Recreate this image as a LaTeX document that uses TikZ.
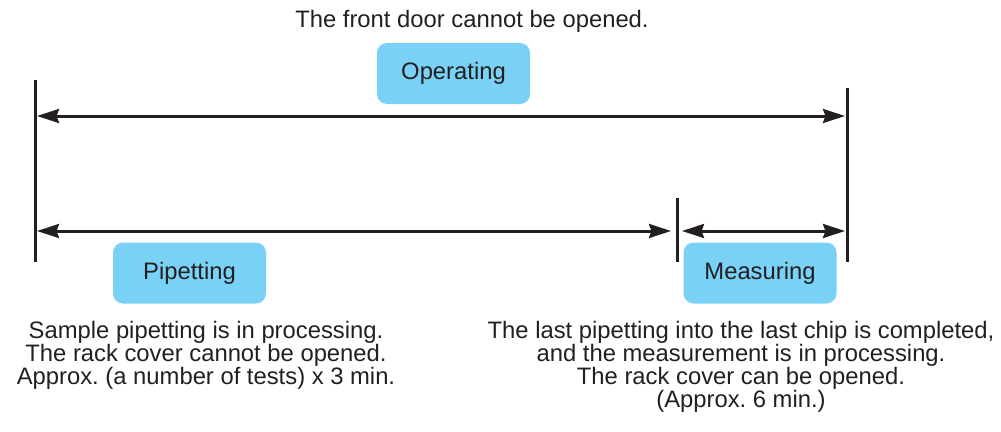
\documentclass[tikz,border=0pt]{standalone}
\usepackage{fontspec}
\setmainfont{Liberation Sans}
\usetikzlibrary{arrows.meta}
\definecolor{boxblue}{HTML}{79D2F6}
\definecolor{ink}{HTML}{231F20}
\frenchspacing
\begin{document}
\begin{tikzpicture}[x=1pt,y=-1pt,
  lbl/.style={fill=boxblue,rounded corners=10pt,minimum width=153pt,minimum height=61pt,inner sep=0pt,font=\fontsize{23.8}{23}\selectfont,text=ink},
  txt/.style={align=center,font=\fontsize{23.8}{23}\selectfont,text=ink,inner sep=0pt},
  bar/.style={draw=ink,line width=3pt},
  dim/.style={draw=ink,line width=3pt,{Stealth[length=22pt,width=14pt,inset=2.5pt]}-{Stealth[length=22pt,width=14pt,inset=2.5pt]}}]
\useasboundingbox (0,0) rectangle (1001,431);
% vertical bars
\coordinate (L1) at (35,80); \coordinate (L2) at (35,262);
\coordinate (R1) at (847,88); \coordinate (R2) at (847,262);
\coordinate (M1) at (677,198); \coordinate (M2) at (677,262);
\draw[bar] (L1) -- (L2);
\draw[bar] (R1) -- (R2);
\draw[bar] (M1) -- (M2);
% arrow end points
\coordinate (TA) at (37,116); \coordinate (TB) at (845,116);
\coordinate (PA) at (37,231); \coordinate (PB) at (671,231);
\coordinate (MA) at (682,231); \coordinate (MB) at (845,231);
\draw[dim] (TA) -- (TB);
\draw[dim] (PA) -- (PB);
\draw[dim] (MA) -- (MB);
% labels
\node[lbl] (op) at (453.5,73.5) {Operating};
\node[lbl] (pip) at (189.5,273) {Pipetting};
\node[lbl] (meas) at (760,273) {Measuring};
\node[txt] (top) at (472,21.5) {The front door cannot be opened.};
\node[txt,anchor=north] (ltxt) at (206,321.5) {Sample pipetting is in processing.\\The rack cover cannot be opened.\\Approx. (a number of tests) x 3 min.};
\node[txt,anchor=north] (rtxt) at (741,321.5) {The last pipetting into the last chip is completed,\\and the measurement is in processing.\\The rack cover can be opened.\\(Approx. 6 min.)};
\end{tikzpicture}
\end{document}
